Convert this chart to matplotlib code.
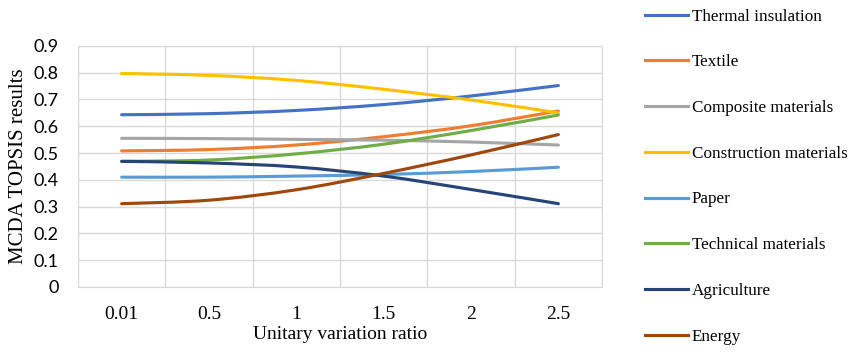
import numpy as np
import matplotlib
matplotlib.use('Agg')
import matplotlib.pyplot as plt
from matplotlib.path import Path
from matplotlib.patches import PathPatch
from matplotlib.lines import Line2D

plt.rcParams['font.family'] = ['Liberation Serif', 'DejaVu Serif']

# data
ratios = ['0.01', '0.5', '1', '1.5', '2', '2.5']
thermal = [0.643, 0.647, 0.659, 0.681, 0.713, 0.752]
textile = [0.508, 0.513, 0.530, 0.561, 0.602, 0.657]
composite = [0.555, 0.554, 0.551, 0.548, 0.541, 0.530]
construction = [0.797, 0.790, 0.771, 0.738, 0.698, 0.650]
paper = [0.410, 0.410, 0.414, 0.420, 0.431, 0.447]
technical = [0.469, 0.474, 0.497, 0.533, 0.584, 0.642]
agriculture = [0.469, 0.463, 0.448, 0.414, 0.364, 0.311]
energy = [0.311, 0.324, 0.363, 0.424, 0.493, 0.569]

names = ['Thermal insulation', 'Textile', 'Composite materials',
         'Construction materials', 'Paper', 'Technical materials',
         'Agriculture', 'Energy']
series = [thermal, textile, composite, construction, paper, technical,
          agriculture, energy]
colors = ['#4472C4', '#ED7D31', '#A5A5A5', '#FFC000', '#5B9BD5', '#70AD47',
          '#264478', '#9E480E']


def smooth_path(xs, ys, t=1/6):
    # Catmull-Rom style cubic bezier through the points (like Excel smoothing)
    pts = list(zip(xs, ys))
    verts = [pts[0]]
    codes = [Path.MOVETO]
    n = len(pts)
    for i in range(n - 1):
        p0 = pts[max(i - 1, 0)]
        p1 = pts[i]
        p2 = pts[i + 1]
        p3 = pts[min(i + 2, n - 1)]
        c1 = (p1[0] + (p2[0] - p0[0]) * t, p1[1] + (p2[1] - p0[1]) * t)
        c2 = (p2[0] - (p3[0] - p1[0]) * t, p2[1] - (p3[1] - p1[1]) * t)
        verts += [c1, c2, p2]
        codes += [Path.CURVE4] * 3
    return Path(verts, codes)


fig = plt.figure(figsize=(8.57, 3.53), dpi=100)
ax = fig.add_axes([0.091, 0.187, 0.6115, 0.683])

x = np.arange(len(ratios))
lw = 2.25
for vals, col in zip(series, colors):
    patch = PathPatch(smooth_path(x, vals), facecolor='none', edgecolor=col,
                      lw=lw, capstyle='round', zorder=3)
    ax.add_patch(patch)

ax.set_xlim(-0.5, len(ratios) - 0.5)
ax.set_ylim(0, 0.9)
ax.set_xticks(x)
ax.set_xticklabels(ratios, fontsize=14)
ax.set_xticks(np.arange(-0.5, len(ratios)), minor=True)
ax.set_yticks(np.arange(0, 0.91, 0.1))
ax.set_yticklabels(['0'] + ['%.1f' % v for v in np.arange(0.1, 0.91, 0.1)],
                   family=['Lato', 'DejaVu Sans'], fontsize=13)
ax.tick_params(which='both', length=0, colors='#000000')
ax.tick_params(axis='x', pad=14)
ax.tick_params(axis='y', pad=14)
ax.grid(True, axis='y', color='#D9D9D9', lw=1)
ax.grid(True, axis='x', which='minor', color='#D9D9D9', lw=1)
for s in ax.spines.values():
    s.set_color('#D9D9D9')
ax.set_axisbelow(True)

ax.set_xlabel('Unitary variation ratio', fontsize=14, labelpad=2)
ax.set_ylabel('MCDA TOPSIS results', fontsize=15, labelpad=4)

handles = [Line2D([0], [0], color=c, lw=lw) for c in colors]
fig.legend(handles, names, loc='upper left', bbox_to_anchor=(0.7445, 0.995),
           frameon=False, fontsize=12.3, handlelength=2.55, handletextpad=0.2,
           labelspacing=1.74, borderaxespad=0)

fig.savefig('out.png', dpi=100)
